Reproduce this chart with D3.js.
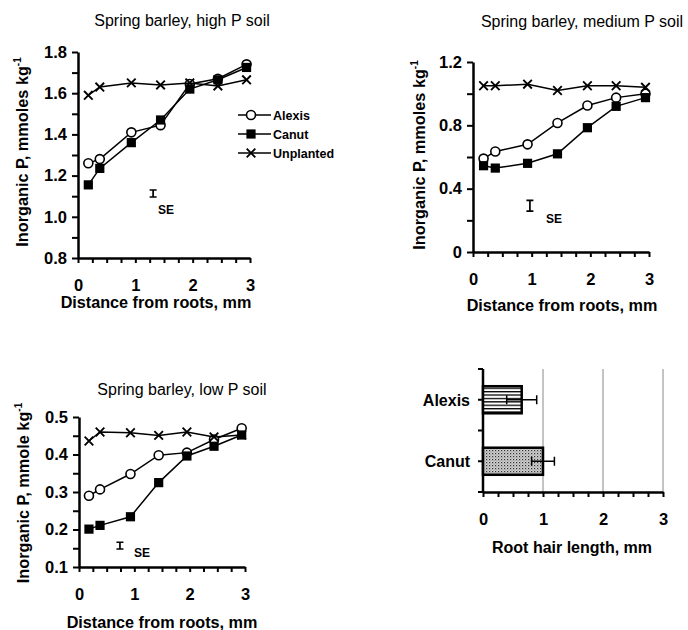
<!DOCTYPE html>
<html><head><meta charset="utf-8">
<script src="https://cdn.jsdelivr.net/npm/d3@7"></script>
<style>
html,body{margin:0;padding:0;background:#fff;}
svg{display:block;font-family:"Liberation Sans",Arial,sans-serif;}
</style></head>
<body>
<svg id="chart" width="688" height="630"></svg>
<script>
// ---- data ----
const distances = [0.18, 0.38, 0.93, 1.44, 1.95, 2.44, 2.94];
const seriesNames = ["Alexis", "Canut", "Unplanted"];
const highAlexis = [1.26, 1.28, 1.41, 1.445, 1.645, 1.67, 1.74];
const highCanut = [1.155, 1.235, 1.36, 1.47, 1.62, 1.665, 1.725];
const highUnplanted = [1.59, 1.63, 1.65, 1.64, 1.65, 1.635, 1.665];
const mediumAlexis = [0.59, 0.635, 0.68, 0.815, 0.925, 0.975, 1.0];
const mediumCanut = [0.545, 0.53, 0.56, 0.62, 0.785, 0.92, 0.975];
const mediumUnplanted = [1.05, 1.05, 1.06, 1.02, 1.05, 1.05, 1.04];
const lowAlexis = [0.29, 0.307, 0.348, 0.398, 0.405, 0.44, 0.47];
const lowCanut = [0.201, 0.211, 0.234, 0.325, 0.396, 0.422, 0.452];
const lowUnplanted = [0.436, 0.46, 0.458, 0.451, 0.46, 0.447, 0.452];
// SE indicator: [x, centre, half-length]
const highSE = [1.31, 1.113, 0.017];
const mediumSE = [0.97, 0.292, 0.034];
const lowSE = [0.74, 0.157, 0.009];
const cultivars = ["Alexis", "Canut"];
const rootHair = [0.645, 1.0];
const rootHairErr = [0.25, 0.19];
const xTicks = [0, 1, 2, 3];
const highYTicks = [0.8, 1.0, 1.2, 1.4, 1.6, 1.8];
const mediumYTicks = [0, 0.4, 0.8, 1.2];
const lowYTicks = [0.1, 0.2, 0.3, 0.4, 0.5];

const svg = d3.select("#chart");
const FONT = '"Liberation Sans",Arial,sans-serif';

function styleAxis(g, w) {
  g.select(".domain").attr("stroke", "#000").attr("stroke-width", w);
  g.selectAll(".tick line").attr("stroke", "#000").attr("stroke-width", 2);
  g.selectAll("text").attr("font-family", FONT).attr("font-weight", "bold")
    .attr("font-size", 16.5).attr("fill", "#000");
}

function marker(g, type, x, y) {
  if (type === 0) {
    g.append("circle").attr("cx", x).attr("cy", y).attr("r", 4.5)
      .attr("fill", "#fff").attr("stroke", "#000").attr("stroke-width", 1.6);
  } else if (type === 1) {
    g.append("rect").attr("x", x - 4.6).attr("y", y - 4.6).attr("width", 9.2).attr("height", 9.2)
      .attr("fill", "#000");
  } else {
    const s = 4.3;
    g.append("path").attr("d", `M${x - s},${y - s}L${x + s},${y + s}M${x - s},${y + s}L${x + s},${y - s}`)
      .attr("stroke", "#000").attr("stroke-width", 1.9).attr("fill", "none");
  }
}

function linePanel(cfg) {
  const g = svg.append("g");
  const x = d3.scaleLinear().domain([0, 3]).range(cfg.xr);
  const y = d3.scaleLinear().domain(cfg.yd).range(cfg.yr);
  const xMinor = d3.range(0, 3.001, 0.25);
  const yMinor = d3.range(cfg.yd[0], cfg.yd[1] + 1e-9, cfg.yStep);
  const gx = g.append("g").attr("transform", `translate(0,${cfg.yr[0]})`)
    .call(d3.axisBottom(x).tickValues(xMinor).tickSize(5).tickSizeOuter(0)
      .tickFormat(d => (xTicks.some(t => Math.abs(t - d) < 1e-9) ? d3.format("d")(d) : "")).tickPadding(16));
  styleAxis(gx, 2.5);
  const gy = g.append("g").attr("transform", `translate(${cfg.xr[0]},0)`)
    .call(d3.axisLeft(y).tickValues(yMinor).tickSize(6).tickSizeOuter(0).tickPadding(5)
      .tickFormat(d => cfg.yTicks.some(t => Math.abs(t - d) < 1e-9) ? cfg.fmt(d) : ""));
  styleAxis(gy, 2.5);

  const line = d3.line().x((d, i) => x(distances[i])).y(d => y(d));
  cfg.series.forEach((vals, si) => {
    g.append("path").datum(vals).attr("d", line).attr("fill", "none")
      .attr("stroke", "#000").attr("stroke-width", 1.5);
    vals.forEach((v, i) => marker(g, si, x(distances[i]), y(v)));
  });

  const se = cfg.se;
  const sx = x(se[0]), y1 = y(se[1] + se[2]), y2 = y(se[1] - se[2]);
  g.append("path").attr("d", `M${sx},${y1}V${y2}M${sx - 3.5},${y1}H${sx + 3.5}M${sx - 3.5},${y2}H${sx + 3.5}`)
    .attr("stroke", "#000").attr("stroke-width", 1.7).attr("fill", "none");
  g.append("text").attr("x", sx + cfg.seDx).attr("y", y2 + cfg.seDy).text("SE")
    .attr("font-weight", "bold").attr("font-size", 12).attr("text-anchor", "middle");

  g.append("text").attr("x", cfg.title[1]).attr("y", cfg.title[2]).attr("text-anchor", "middle")
    .attr("font-size", 16).text(cfg.title[0]);
  g.append("text").attr("x", cfg.xt[0]).attr("y", cfg.xt[1]).attr("text-anchor", "middle")
    .attr("font-size", 16.2).attr("font-weight", "bold").text("Distance from roots, mm");
  const yl = g.append("text").attr("transform", `translate(${cfg.yt[0]},${cfg.yt[1]}) rotate(-90)`)
    .attr("text-anchor", "middle").attr("font-size", 16.3).attr("font-weight", "bold");
  yl.append("tspan").text(cfg.ylab);
  yl.append("tspan").attr("dy", -7).attr("font-size", 10).text("-1");
  return {g, x, y};
}

const p1 = linePanel({
  xr: [78, 250], yd: [0.8, 1.8], yr: [258, 52], yStep: 0.1, yTicks: highYTicks, fmt: d3.format(".1f"),
  series: [highAlexis, highCanut, highUnplanted], se: highSE, seDx: 13, seDy: 17,
  title: ["Spring barley, high P soil", 182, 26], xt: [156, 308], yt: [28, 152],
  ylab: "Inorganic P, mmoles kg"
});
seriesNames.forEach((name, i) => {
  const ly = 115 + i * 19;
  p1.g.append("line").attr("x1", 238).attr("x2", 271).attr("y1", ly).attr("y2", ly)
    .attr("stroke", "#000").attr("stroke-width", 1.5);
  marker(p1.g, i, 251, ly);
  p1.g.append("text").attr("x", 273).attr("y", ly + 4.5).attr("font-size", 12.5)
    .attr("font-weight", "bold").text(name);
});

linePanel({
  xr: [473, 649], yd: [0, 1.2], yr: [252, 62], yStep: 0.2, yTicks: mediumYTicks, fmt: d3.format(""),
  series: [mediumAlexis, mediumCanut, mediumUnplanted], se: mediumSE, seDx: 24, seDy: 12,
  title: ["Spring barley, medium P soil", 582, 27], xt: [562, 311], yt: [425, 155],
  ylab: "Inorganic P, mmoles kg"
});

linePanel({
  xr: [79, 245], yd: [0.1, 0.5], yr: [567, 417], yStep: 0.05, yTicks: lowYTicks, fmt: d3.format(".1f"),
  series: [lowAlexis, lowCanut, lowUnplanted], se: lowSE, seDx: 22, seDy: 8,
  title: ["Spring barley, low P soil", 182, 395], xt: [162, 628], yt: [29, 493],
  ylab: "Inorganic P, mmole kg"
});

// ---- bar panel ----
(function () {
  const defs = svg.append("defs");
  const p1 = defs.append("pattern").attr("id", "stripes").attr("patternUnits", "userSpaceOnUse")
    .attr("width", 6).attr("height", 3.4);
  p1.append("rect").attr("width", 6).attr("height", 3.4).attr("fill", "#fff");
  p1.append("rect").attr("y", 0).attr("width", 6).attr("height", 1.3).attr("fill", "#000");
  const p2 = defs.append("pattern").attr("id", "stipple").attr("patternUnits", "userSpaceOnUse")
    .attr("width", 3).attr("height", 3);
  p2.append("rect").attr("width", 3).attr("height", 3).attr("fill", "#d0d0d0");
  p2.append("rect").attr("width", 1.2).attr("height", 1.2).attr("fill", "#333");
  p2.append("rect").attr("x", 1.5).attr("y", 1.5).attr("width", 1).attr("height", 1).attr("fill", "#777");

  const g = svg.append("g");
  const x = d3.scaleLinear().domain([0, 3]).range([483, 663]);
  const y = d3.scaleBand().domain(cultivars).range([369, 492]).paddingInner(0.56).paddingOuter(0.28);
  g.selectAll(".grid").data([1, 2, 3]).join("line")
    .attr("x1", d => x(d)).attr("x2", d => x(d)).attr("y1", 369).attr("y2", 492)
    .attr("stroke", "#888").attr("stroke-width", 1);
  const gx = g.append("g").attr("transform", "translate(0,492)")
    .call(d3.axisBottom(x).tickValues(d3.range(0, 3.001, 0.25)).tickSize(5).tickSizeOuter(0).tickPadding(16)
      .tickFormat(d => (xTicks.some(t => Math.abs(t - d) < 1e-9) ? d3.format("d")(d) : "")));
  styleAxis(gx, 2.5);
  const bw = (492 - 369) / cultivars.length;
  const yTickPos = d3.range(0, cultivars.length * 2 + 1).map(i => 369 + i * bw / 2);
  g.append("line").attr("x1", 483).attr("x2", 483).attr("y1", 369).attr("y2", 492)
    .attr("stroke", "#000").attr("stroke-width", 2.5);
  g.selectAll(".ytk").data(yTickPos).join("line")
    .attr("x1", 478).attr("x2", 483).attr("y1", d => d).attr("y2", d => d)
    .attr("stroke", "#000").attr("stroke-width", 2);
  g.selectAll(".ylab").data(cultivars).join("text")
    .attr("x", 470).attr("y", d => y(d) + y.bandwidth() / 2 + 6).attr("text-anchor", "end")
    .attr("font-size", 16).attr("font-weight", "bold").text(d => d);
  cultivars.forEach((c, i) => {
    g.append("rect").attr("x", x(0)).attr("y", y(c)).attr("width", x(rootHair[i]) - x(0))
      .attr("height", y.bandwidth()).attr("fill", i === 0 ? "url(#stripes)" : "url(#stipple)")
      .attr("stroke", "#000").attr("stroke-width", 2.5);
    const cy = y(c) + y.bandwidth() / 2;
    const a = x(rootHair[i] - rootHairErr[i]), b = x(rootHair[i] + rootHairErr[i]);
    g.append("path").attr("d", `M${a},${cy}H${b}M${a},${cy - 4.5}V${cy + 4.5}M${b},${cy - 4.5}V${cy + 4.5}`)
      .attr("stroke", "#000").attr("stroke-width", 1.5).attr("fill", "none");
  });
  g.append("text").attr("x", 572).attr("y", 553).attr("text-anchor", "middle")
    .attr("font-size", 16).attr("font-weight", "bold").text("Root hair length, mm");
})();
</script>
</body></html>
